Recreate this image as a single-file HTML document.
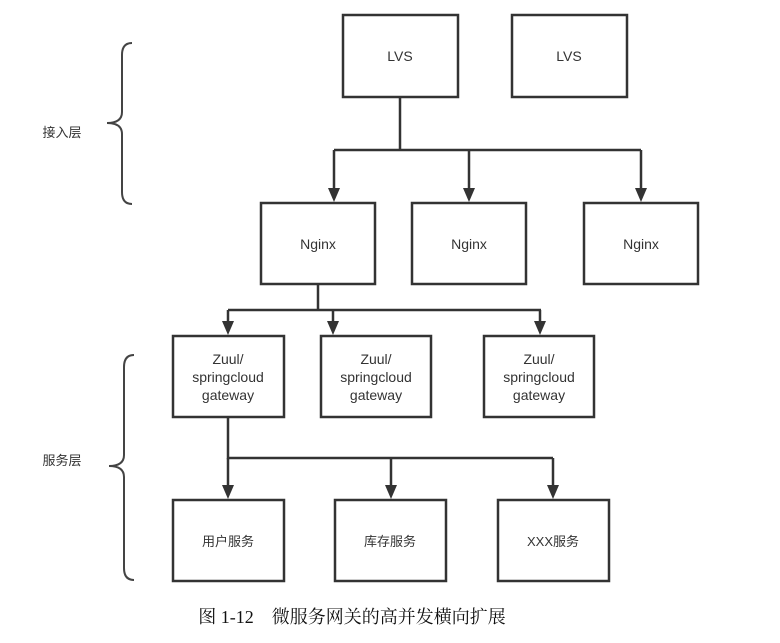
<!DOCTYPE html>
<html><head><meta charset="utf-8"><style>
body{margin:0;background:#fff;}
svg text{font-family:"Liberation Sans","Noto Sans CJK SC",sans-serif;fill:#333;font-size:14px;text-anchor:middle;}
</style></head><body>
<svg width="780" height="638" xmlns="http://www.w3.org/2000/svg">
<g fill="#fff" stroke="#333" stroke-width="2.5">
<rect x="343" y="15" width="115" height="82"/>
<rect x="512" y="15" width="115" height="82"/>
<rect x="261" y="203" width="114" height="81"/>
<rect x="412" y="203" width="114" height="81"/>
<rect x="584" y="203" width="114" height="81"/>
<rect x="173" y="336" width="111" height="81"/>
<rect x="321" y="336" width="110" height="81"/>
<rect x="484" y="336" width="110" height="81"/>
<rect x="173" y="500" width="111" height="81"/>
<rect x="335" y="500" width="111" height="81"/>
<rect x="498" y="500" width="111" height="81"/>
</g>
<g fill="none" stroke="#333" stroke-width="2.5">
<path d="M400,97 V150 M334,150 H641"/>
<path d="M334,150 V190 M469,150 V190 M641,150 V190"/>
<path d="M318,284 V310 M228,310 H541"/>
<path d="M228,310 V323 M333,310 V323 M540,310 V323"/>
<path d="M228,417 V458 H553"/>
<path d="M228,458 V487 M391,458 V487 M553,458 V487"/>
</g>
<g fill="#333">
<polygon points="328,188 340,188 334,202"/>
<polygon points="463,188 475,188 469,202"/>
<polygon points="635,188 647,188 641,202"/>
<polygon points="222,321 234,321 228,335"/>
<polygon points="327,321 339,321 333,335"/>
<polygon points="534,321 546,321 540,335"/>
<polygon points="222,485 234,485 228,499"/>
<polygon points="385,485 397,485 391,499"/>
<polygon points="547,485 559,485 553,499"/>
</g>
<g fill="none" stroke="#444" stroke-width="2">
<path d="M132,43 Q122,43 122,55 V112 Q122,123 107,123 Q122,123 122,134 V192 Q122,204 132,204"/>
<path d="M134,355 Q124,355 124,367 V455 Q124,466 109,466 Q124,466 124,477 V568 Q124,580 134,580"/>
</g>
<text x="400" y="61">LVS</text><text x="569" y="61">LVS</text>
<text x="318" y="249">Nginx</text><text x="469" y="249">Nginx</text><text x="641" y="249">Nginx</text>
<g>
<text x="228" y="364">Zuul/</text><text x="228" y="382">springcloud</text><text x="228" y="400">gateway</text>
<text x="376" y="364">Zuul/</text><text x="376" y="382">springcloud</text><text x="376" y="400">gateway</text>
<text x="539" y="364">Zuul/</text><text x="539" y="382">springcloud</text><text x="539" y="400">gateway</text>
</g>
<text x="228" y="546" style="font-size:13px">用户服务</text>
<text x="390" y="546" style="font-size:13px">库存服务</text>
<text x="553" y="546" style="font-size:13px">XXX服务</text>
<text x="62" y="137" style="font-size:13px">接入层</text>
<text x="62" y="465" style="font-size:13px">服务层</text>
<text x="352" y="623" style="font-family:'Liberation Serif','Noto Serif CJK SC',serif;font-size:18px;fill:#111">图 1-12　微服务网关的高并发横向扩展</text>
</svg>
</body></html>
